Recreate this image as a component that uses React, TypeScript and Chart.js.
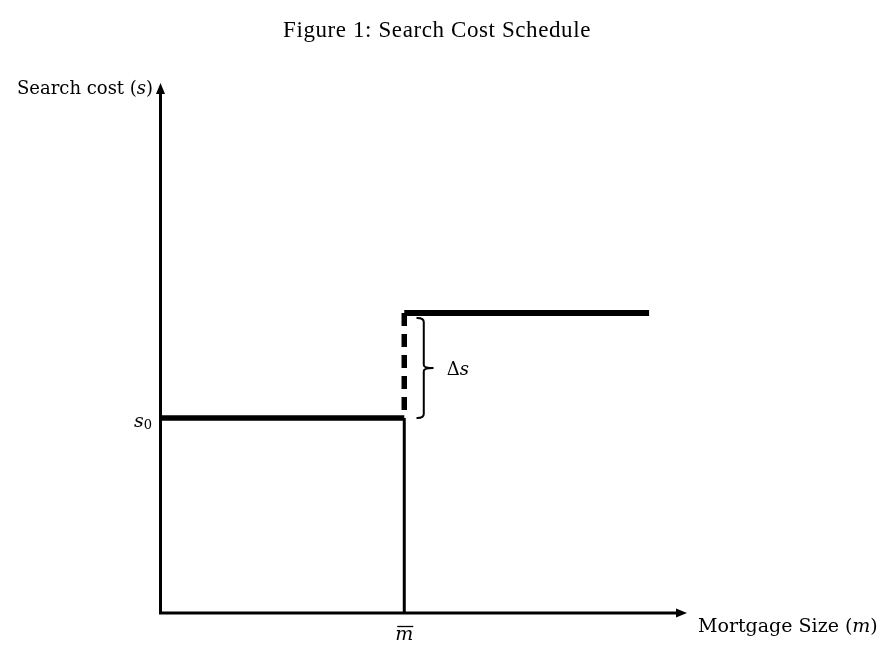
import { useEffect, useRef } from "react";
import { Chart, registerables } from "chart.js";
Chart.register(...registerables);

// ---- data (abstract units on both axes) ----
const X_RANGE = [0, 100];
const Y_RANGE = [0, 100];
const M_BAR = 46.3; // threshold mortgage size
const X_END = 92.8; // end of drawn schedule
const S0 = 36.8; // base search cost
const S_HIGH = 56.6; // search cost above threshold

const TITLE = "Figure 1: Search Cost Schedule";
const Y_LABEL = ["Search cost ", "(", "s", ")"];
const X_LABEL = ["Mortgage Size ", "(", "m", ")"];
const S0_LABEL = ["s", "0"];
const DELTA_LABEL = ["Δ", "s"];
const MBAR_LABEL = "m";

const lowSegment = [
  { x: X_RANGE[0], y: S0 },
  { x: M_BAR, y: S0 },
];
const highSegment = [
  { x: M_BAR, y: S_HIGH },
  { x: X_END, y: S_HIGH },
];
const jumpSegment = [
  { x: M_BAR, y: S_HIGH },
  { x: M_BAR, y: S0 },
];
const thresholdLine = [
  { x: M_BAR, y: S0 },
  { x: M_BAR, y: Y_RANGE[0] },
];

const SERIF = "'DejaVu Serif'";

function drawRuns(
  ctx: CanvasRenderingContext2D,
  x: number,
  y: number,
  runs: { t: string; f: string; dy?: number }[]
) {
  let cx = x;
  for (const r of runs) {
    ctx.font = r.f;
    ctx.fillText(r.t, cx, y + (r.dy || 0));
    cx += ctx.measureText(r.t).width;
  }
  return cx;
}

const overlay = {
  id: "overlay",
  afterDatasetsDraw(chart: any) {
    const ctx: CanvasRenderingContext2D = chart.ctx;
    const xs = chart.scales.x;
    const ys = chart.scales.y;
    const x0 = xs.getPixelForValue(X_RANGE[0]);
    const x1 = xs.getPixelForValue(X_RANGE[1]);
    const y0 = ys.getPixelForValue(Y_RANGE[0]);
    const y1 = ys.getPixelForValue(Y_RANGE[1]);
    ctx.save();
    ctx.strokeStyle = "#000";
    ctx.fillStyle = "#000";
    // axes
    ctx.lineWidth = 3;
    ctx.lineCap = "butt";
    ctx.beginPath();
    ctx.moveTo(x0, y0 + 1.5);
    ctx.lineTo(x0, y1 + 8);
    ctx.moveTo(x0 - 1.5, y0);
    ctx.lineTo(x1 - 8, y0);
    ctx.stroke();
    // arrowheads
    ctx.beginPath();
    ctx.moveTo(x0, y1);
    ctx.lineTo(x0 - 4.5, y1 + 11);
    ctx.lineTo(x0 + 4.5, y1 + 11);
    ctx.closePath();
    ctx.fill();
    ctx.beginPath();
    ctx.moveTo(x1, y0);
    ctx.lineTo(x1 - 11, y0 - 4.5);
    ctx.lineTo(x1 - 11, y0 + 4.5);
    ctx.closePath();
    ctx.fill();

    // bracket for Δs
    const mx = xs.getPixelForValue(M_BAR);
    const top = ys.getPixelForValue(S_HIGH) + 5;
    const bot = ys.getPixelForValue(S0);
    const mid = (top + bot) / 2;
    const bx = mx + 19.5;
    ctx.lineWidth = 2;
    ctx.lineCap = "round";
    ctx.lineJoin = "round";
    ctx.beginPath();
    ctx.moveTo(mx + 13, top);
    ctx.quadraticCurveTo(bx, top, bx, top + 4);
    ctx.lineTo(bx, mid - 3);
    ctx.quadraticCurveTo(bx, mid, bx + 9, mid);
    ctx.quadraticCurveTo(bx, mid, bx, mid + 3);
    ctx.lineTo(bx, bot - 4);
    ctx.quadraticCurveTo(bx, bot, mx + 13, bot);
    ctx.stroke();

    // texts
    ctx.textBaseline = "alphabetic";
    ctx.textAlign = "left";
    // title
    ctx.font = `23px 'Liberation Serif'`;
    (ctx as any).letterSpacing = "0.6px";
    const tw = ctx.measureText(TITLE).width;
    ctx.fillText(TITLE, 437 - tw / 2, 37);
    (ctx as any).letterSpacing = "0px";

    // y label
    const yf = `18px ${SERIF}`;
    const yfi = `italic 18px ${SERIF}`;
    drawRuns(ctx, 17, 94, [
      { t: Y_LABEL[0], f: yf },
      { t: Y_LABEL[1], f: yf },
      { t: Y_LABEL[2], f: yfi },
      { t: Y_LABEL[3], f: yf },
    ]);
    // x label
    const xf = `19px ${SERIF}`;
    const xfi = `italic 19px ${SERIF}`;
    drawRuns(ctx, 698, 632, [
      { t: X_LABEL[0], f: xf },
      { t: X_LABEL[1], f: xf },
      { t: X_LABEL[2], f: xfi },
      { t: X_LABEL[3], f: xf },
    ]);
    // s0
    drawRuns(ctx, 134, bot + 9, [
      { t: S0_LABEL[0], f: `italic 19px ${SERIF}` },
      { t: S0_LABEL[1], f: `13px ${SERIF}`, dy: 2 },
    ]);
    // Δs
    drawRuns(ctx, bx + 23, mid + 7, [
      { t: DELTA_LABEL[0], f: `18px ${SERIF}` },
      { t: DELTA_LABEL[1], f: `italic 18px ${SERIF}` },
    ]);
    // m bar
    ctx.font = `italic 19px ${SERIF}`;
    const mw = ctx.measureText(MBAR_LABEL).width;
    ctx.fillText(MBAR_LABEL, mx - mw / 2, 640);
    ctx.lineWidth = 1.3;
    ctx.lineCap = "butt";
    ctx.beginPath();
    ctx.moveTo(mx - mw / 2 + 2, 626.5);
    ctx.lineTo(mx + mw / 2, 626.5);
    ctx.stroke();
    ctx.restore();
  },
};

export default function App() {
  const ref = useRef<HTMLCanvasElement>(null);
  useEffect(() => {
    const base = {
      borderColor: "#000",
      pointRadius: 0,
      fill: false,
      tension: 0,
      borderCapStyle: "butt" as const,
    };
    const chart = new Chart(ref.current!, {
      type: "line",
      data: {
        datasets: [
          { ...base, label: "threshold", data: thresholdLine, borderWidth: 3 },
          { ...base, label: "low", data: lowSegment, borderWidth: 5.5 },
          { ...base, label: "high", data: highSegment, borderWidth: 6 },
          { ...base, label: "jump", data: jumpSegment, borderWidth: 5.5, borderDash: [13, 8] },
        ],
      },
      options: {
        animation: false,
        responsive: false,
        devicePixelRatio: 1,
        layout: { padding: { left: 160.5, right: 191, top: 83, bottom: 53 } },
        scales: {
          x: { type: "linear", min: X_RANGE[0], max: X_RANGE[1], display: false },
          y: { type: "linear", min: Y_RANGE[0], max: Y_RANGE[1], display: false },
        },
        plugins: {
          legend: { display: false },
          tooltip: { enabled: false },
          title: { display: false },
        },
      },
      plugins: [overlay],
    });
    return () => chart.destroy();
  }, []);
  return (
    <div style={{ position: "absolute", left: 0, top: 0, width: 878, height: 666, background: "#fff" }}>
      <canvas ref={ref} width={878} height={666} style={{ display: "block" }} />
    </div>
  );
}
